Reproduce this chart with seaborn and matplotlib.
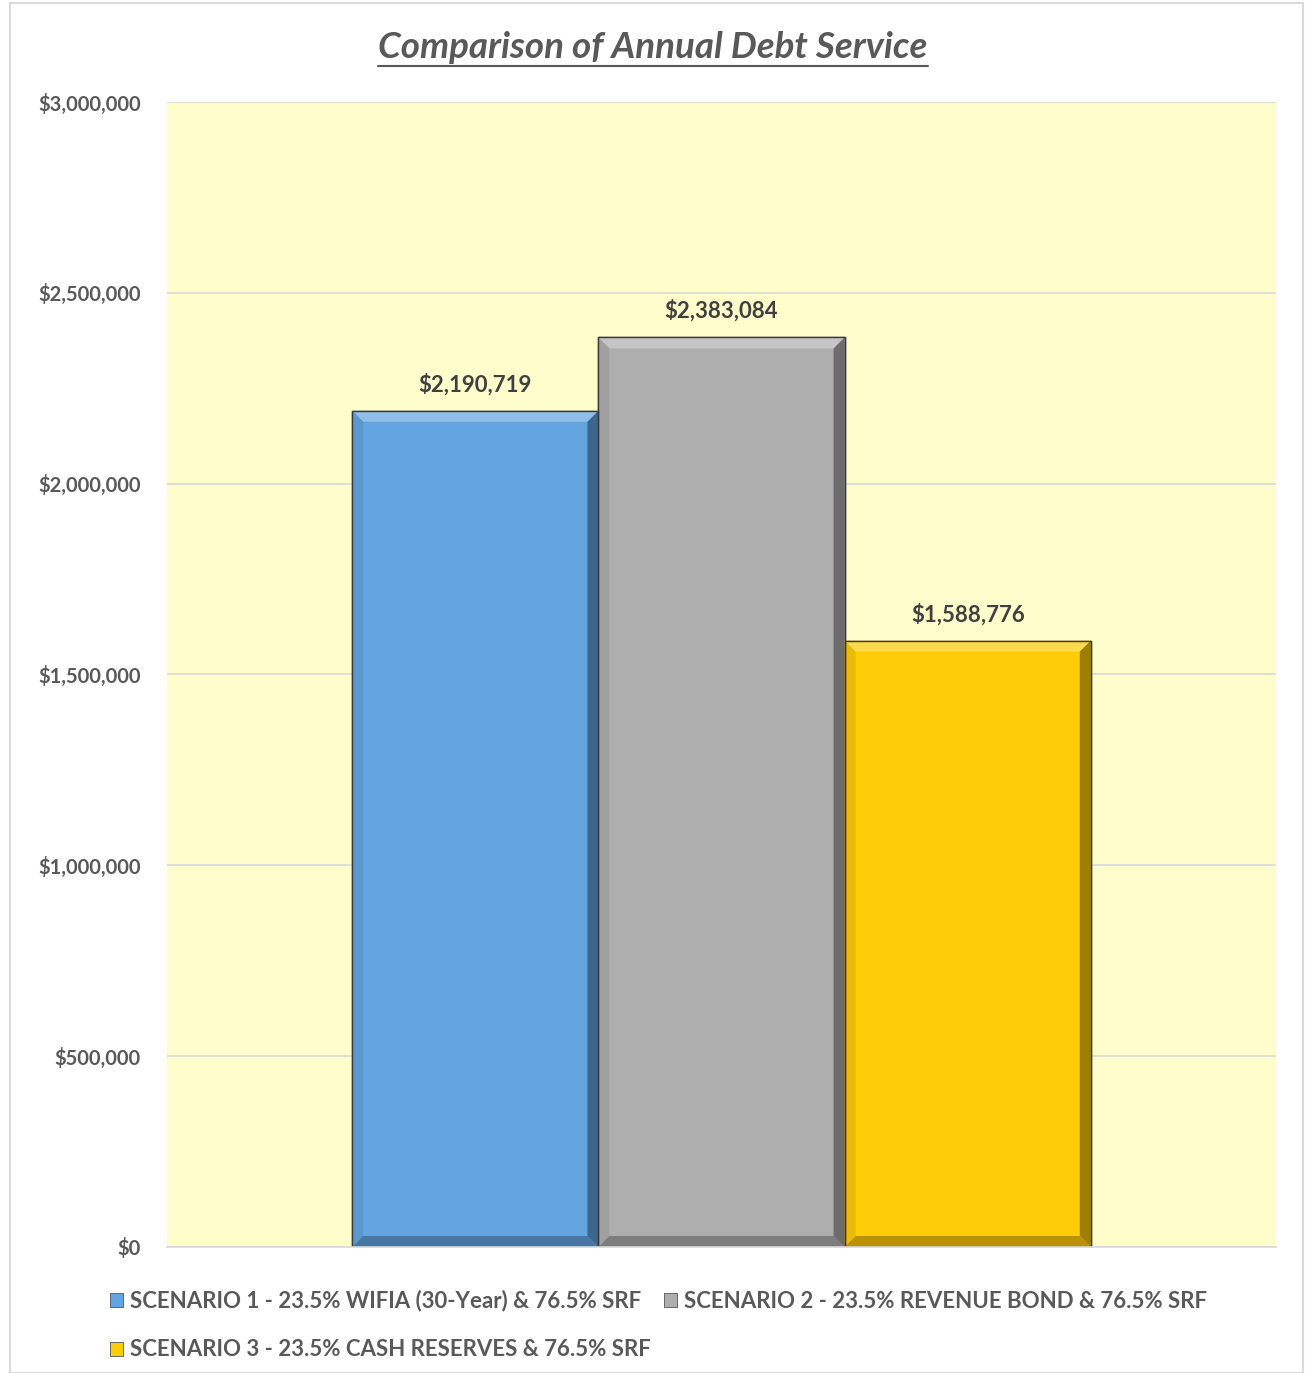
import matplotlib
matplotlib.use("Agg")
import matplotlib.pyplot as plt
import seaborn as sns
import pandas as pd
import numpy as np
from matplotlib.ticker import FuncFormatter, MultipleLocator
from matplotlib.patches import Patch, Rectangle, Polygon
from matplotlib.lines import Line2D
from matplotlib.colors import to_rgb

# ---- data ----
scenarios = [
    "SCENARIO 1 - 23.5% WIFIA (30-Year) & 76.5% SRF",
    "SCENARIO 2 - 23.5% REVENUE BOND & 76.5% SRF",
    "SCENARIO 3 - 23.5% CASH RESERVES & 76.5% SRF",
]
debt_service = [2190719, 2383084, 1588776]
bar_colors = ["#63A5E0", "#AEAEAE", "#FFCC08"]
title = "Comparison of Annual Debt Service"

df = pd.DataFrame({"group": [""] * 3, "scenario": scenarios, "value": debt_service})

sns.set_theme(style="white")
plt.rcParams["font.family"] = ["Lato", "DejaVu Sans"]

W, H = 1306, 1373
fig = plt.figure(figsize=(W / 100, H / 100), dpi=100)
ax = fig.add_axes([167 / W, 1 - 1247 / H, (1276 - 167) / W, (1247 - 102) / H])
ax.set_facecolor("#FFFDCB")

sns.barplot(data=df, x="group", y="value", hue="scenario", palette=bar_colors,
            width=0.666, gap=0, dodge=True, ax=ax, legend=False,
            edgecolor="#3A3A3A", linewidth=1.0, errorbar=None, saturation=1)

ax.set_xlim(-0.5, 0.5)
ax.set_ylim(0, 3000000)
ax.yaxis.set_major_locator(MultipleLocator(500000))
ax.yaxis.set_major_formatter(FuncFormatter(lambda v, p: f"${v:,.0f}"))
ax.grid(axis="y", color="#D9D9D9", linewidth=1.2)
ax.set_axisbelow(True)
ax.set_xlabel("")
ax.set_ylabel("")
ax.set_xticks([])
for s in ["top", "right", "left"]:
    ax.spines[s].set_visible(False)
ax.spines["bottom"].set_color("#D9D9D9")
ax.spines["bottom"].set_linewidth(1.2)
ax.tick_params(axis="y", length=0, pad=19, labelsize=14.5, labelcolor="#595959")
for lbl in ax.get_yticklabels():
    lbl.set_fontweight("bold")


def shade(c, f):
    r = np.array(to_rgb(c))
    return tuple(r * (1 + f)) if f < 0 else tuple(r + (1 - r) * f)


# bevel effect derived from each bar's geometry
bev_px = 11
dx = bev_px / (1276 - 167) * 1.0
dy = bev_px / (1247 - 102) * 3000000
for bar in ax.patches:
    x0, w, h = bar.get_x(), bar.get_width(), bar.get_height()
    c = bar.get_facecolor()
    x1, y0, y1 = x0 + w, 0, h
    polys = [
        ([(x0, y1), (x1, y1), (x1 - dx, y1 - dy), (x0 + dx, y1 - dy)], shade(c, 0.28)),
        ([(x0, y0), (x0, y1), (x0 + dx, y1 - dy), (x0 + dx, y0 + dy)], shade(c, -0.08)),
        ([(x1, y0), (x1, y1), (x1 - dx, y1 - dy), (x1 - dx, y0 + dy)], shade(c, -0.38)),
        ([(x0, y0), (x1, y0), (x1 - dx, y0 + dy), (x0 + dx, y0 + dy)], shade(c, -0.28)),
    ]
    for pts, col in polys:
        ax.add_patch(Polygon(pts, closed=True, facecolor=col, edgecolor="none",
                             zorder=bar.get_zorder() + 0.1))
    ax.add_patch(Rectangle((x0, y0), w, h, fill=False, edgecolor="#3A3A3A", linewidth=1.0,
                           zorder=bar.get_zorder() + 0.2))

for c in ax.containers:
    ax.bar_label(c, labels=[f"${v:,.0f}" for v in c.datavalues], padding=11,
                 fontsize=16, fontweight="bold", color="#404040")

# title with underline
t = fig.text(0.5, 1 - 48 / H, title, ha="center", va="center", fontsize=26.5,
             style="italic", fontweight="bold", color="#595959")
fig.canvas.draw()
bb = t.get_window_extent()
fig.add_artist(Line2D([bb.x0 / W, bb.x1 / W], [(bb.y0 - 1) / H, (bb.y0 - 1) / H],
                      color="#595959", linewidth=1.5))

# figure border
fig.add_artist(Rectangle((10 / W, 0), (1303 - 10) / W, 1 - 3 / H, fill=False,
                         edgecolor="#D9D9D9", linewidth=1.5, transform=fig.transFigure))

handles = [Patch(facecolor=c, edgecolor="#555555", linewidth=0.6) for c in bar_colors]
order = [0, 2, 1]
leg = fig.legend([handles[i] for i in order], [scenarios[i] for i in order],
                 loc="upper left", bbox_to_anchor=(90 / W, 1 - 1270 / H), ncol=2,
                 frameon=False, handlelength=0.6, handleheight=0.6,
                 handletextpad=0.3, columnspacing=0.6, labelspacing=1.25,
                 labelcolor="#595959", prop={"weight": "bold", "size": 16})

fig.savefig("out.png", dpi=100, facecolor="white")
